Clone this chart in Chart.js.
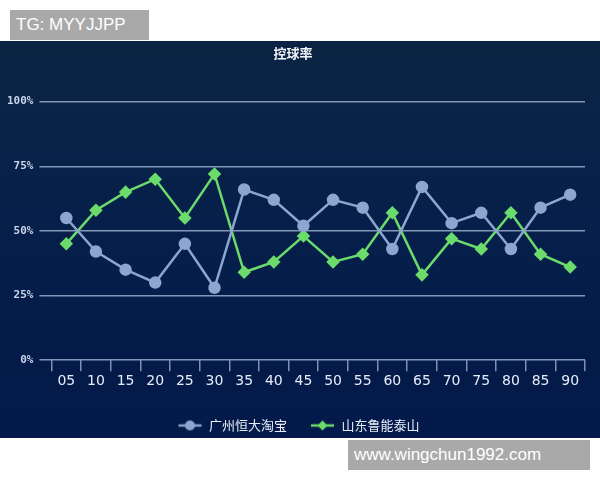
<!DOCTYPE html>
<html>
<head>
<meta charset="utf-8">
<script src="https://cdn.jsdelivr.net/npm/chart.js@4.4.0/dist/chart.umd.min.js"></script>
<style>
  html, body { margin: 0; padding: 0; background: #fff; }
  body { width: 600px; height: 480px; position: relative; overflow: hidden; }
  #panel {
    position: absolute; left: 0; top: 41px; width: 600px; height: 397px; overflow: hidden;
    background: linear-gradient(#0c2443 0%, #07204a 40%, #03194a 100%);
  }
  .mark {
    position: absolute; background: #a9a9a9; color: #fff;
    font-family: "Liberation Sans", Arial, sans-serif; font-size: 17px; line-height: 30px;
  }
  #tg { left: 10px; top: 10px; width: 139px; height: 30px; padding-left: 6px; box-sizing: border-box; }
  #site { left: 348px; top: 440px; width: 242px; height: 30px; padding-left: 6px; box-sizing: border-box; }
</style>
</head>
<body>
<div id="panel"><canvas id="ballchart" width="600" height="401"></canvas></div>
<div class="mark" id="tg">TG: MYYJJPP</div>
<div class="mark" id="site">www.wingchun1992.com</div>
<script>
var minutes = ['05','10','15','20','25','30','35','40','45','50','55','60','65','70','75','80','85','90'];
var guangzhou = [55, 42, 35, 30, 45, 28, 66, 62, 52, 62, 59, 43, 67, 53, 57, 43, 59, 64];
var shandong  = [45, 58, 65, 70, 55, 72, 34, 38, 48, 38, 41, 57, 33, 47, 43, 57, 41, 36];
var teamNames = ['广州恒大淘宝', '山东鲁能泰山'];
var yTicks = [0, 25, 50, 75, 100];

var grayColor = '#8ea5d0';
var greenColor = '#6bdc6b';
var gridColor = '#8397ba';

// legend symbol: a line with the marker on it (blank strip on the left = item gap)
function legendIcon(color, shape) {
  var c = document.createElement('canvas');
  c.width = 36; c.height = 12;
  var g = c.getContext('2d');
  g.strokeStyle = color; g.fillStyle = color; g.lineWidth = 2.5;
  g.beginPath(); g.moveTo(12, 6); g.lineTo(35, 6); g.stroke();
  g.beginPath();
  if (shape == 'circle') {
    g.arc(23.5, 6, 5, 0, Math.PI * 2);
  } else {
    g.moveTo(23.5, 1); g.lineTo(28.5, 6); g.lineTo(23.5, 11); g.lineTo(18.5, 6); g.closePath();
  }
  g.fill();
  return c;
}
var icons = [legendIcon(grayColor, 'circle'), legendIcon(greenColor, 'diamond')];

var ctx = document.getElementById('ballchart');

var chart = new Chart(ctx, {
  type: 'line',
  data: {
    labels: minutes,
    datasets: [
      {
        label: teamNames[0],
        data: guangzhou,
        borderColor: grayColor,
        backgroundColor: grayColor,
        borderWidth: 2.5,
        pointStyle: 'circle',
        pointRadius: 5,
        pointHoverRadius: 5,
        tension: 0
      },
      {
        label: teamNames[1],
        data: shandong,
        borderColor: greenColor,
        backgroundColor: greenColor,
        borderWidth: 2.5,
        pointStyle: 'rectRot',
        pointRadius: 5,
        pointHoverRadius: 5,
        tension: 0
      }
    ]
  },
  options: {
    responsive: false,
    animation: false,
    layout: { padding: { left: 1, right: 15, top: 0, bottom: 0 } },
    plugins: {
      title: {
        display: true,
        text: '控球率',
        color: '#f2f5fa',
        font: { family: '"Noto Sans CJK SC", sans-serif', size: 13, weight: 'bold' },
        padding: { top: 4, bottom: 41 }
      },
      legend: {
        position: 'bottom',
        labels: {
          color: '#e8eef8',
          font: { family: '"Noto Sans CJK SC", sans-serif', size: 13 },
          usePointStyle: true,
          pointStyleWidth: 36,
          padding: 12,
          generateLabels: function(chart) {
            var items = Chart.defaults.plugins.legend.labels.generateLabels(chart);
            items.forEach(function(it, i) { it.pointStyle = icons[i]; });
            return items;
          }
        }
      },
      tooltip: { enabled: false }
    },
    scales: {
      x: {
        offset: true,
        afterFit: function(axis) { axis.height += 15; },
        grid: {
          offset: true,
          drawOnChartArea: false,
          drawTicks: true,
          tickLength: 11,
          color: '#7d91b5',
          lineWidth: 1.5
        },
        border: { display: false },
        ticks: {
          color: '#e6edf8',
          font: { family: '"DejaVu Sans", sans-serif', size: 14 },
          padding: 2,
          maxRotation: 0,
          autoSkip: false
        }
      },
      y: {
        min: 0,
        max: 100,
        afterBuildTicks: function(axis) {
          axis.ticks = yTicks.map(function(v) { return { value: v }; });
        },
        grid: {
          color: gridColor,
          lineWidth: 1.5,
          drawTicks: true,
          tickLength: 12
        },
        border: { display: false },
        ticks: {
          color: '#c9d5ea',
          font: { family: '"DejaVu Sans Mono", monospace', size: 11, weight: 'bold' },
          padding: 6,
          callback: function(v) { return v + '%'; }
        }
      }
    }
  }
});
</script>
</body>
</html>
